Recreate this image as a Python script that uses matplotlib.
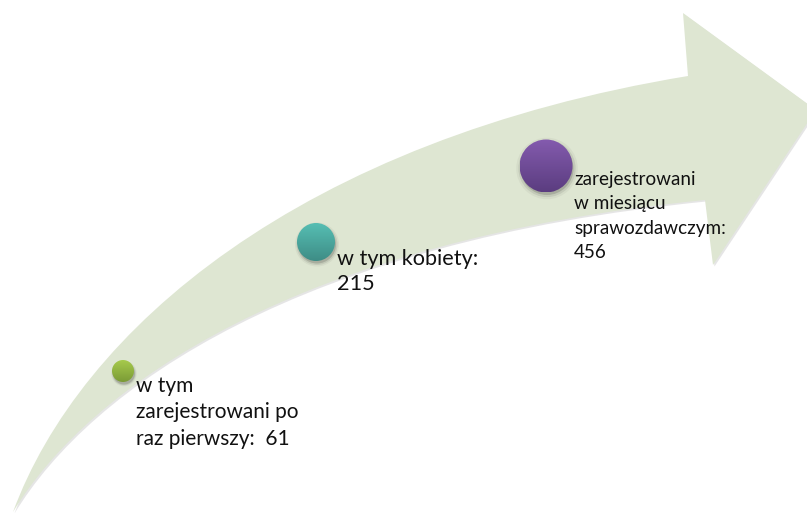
import numpy as np
import matplotlib
matplotlib.use('Agg')
import matplotlib.pyplot as plt
import matplotlib.patches as pat
from matplotlib.path import Path
from matplotlib.colors import LinearSegmentedColormap

plt.rcParams['font.family'] = ['Lato', 'DejaVu Sans']

# values shown on the arrow, from the start of the arrow to its head
values = [61, 215, 456]
caption_lines = [['w tym', 'zarejestrowani po', 'raz pierwszy:  {}'],
                 ['w tym kobiety:', '{}'],
                 ['zarejestrowani', 'w miesiącu', 'sprawozdawczym:', '{}']]

# look of the markers (pixel units, y down)
centers = [(123, 371), (316, 242), (546, 166)]
radii = [11, 19, 26.5]
tops = ['#A6CA4C', '#56BEB3', '#845BAE']
bottoms = ['#7B9B36', '#3E8D86', '#5B3D80']
text_x = [136, 337, 574]
text_y0 = [391.5, 265, 185]
line_step = [26.7, 25, 24.4]
text_size = [15, 15.6, 13.6]

W, H = 807, 513
fig = plt.figure(figsize=(W/100, H/100), dpi=100)
ax = fig.add_axes([0, 0, 1, 1])
ax.axis('off')

# curved arrow body: upper edge, head, lower edge back to the tail
verts = [(13, 512), (80, 330), (300, 140), (688, 76),
         (683, 13), (816, 110), (713, 265), (705, 200),
         (300, 240), (90, 385), (13, 512)]
codes = [Path.MOVETO, Path.CURVE4, Path.CURVE4, Path.CURVE4,
         Path.LINETO, Path.LINETO, Path.LINETO, Path.LINETO,
         Path.CURVE4, Path.CURVE4, Path.CURVE4]
arrow = Path(verts, codes)
shadow_arrow = Path([(x+1.5, y+1.5) for x, y in verts], codes)
ax.add_patch(pat.PathPatch(shadow_arrow, fc='#9a9a9a', ec='none', alpha=0.25, zorder=1))
ax.add_patch(pat.PathPatch(arrow, fc='#DEE6D2', ec='none', zorder=2))


def ball(cx, cy, r, top, bottom):
    for k, a in zip([1.0, 1.08, 1.16], [0.14, 0.08, 0.04]):
        ax.add_patch(pat.Circle((cx+1, cy+2.5), r*k, fc='black', ec='none', alpha=a, zorder=3))
    circ = pat.Circle((cx, cy), r, fc='none', ec='none', zorder=4)
    ax.add_patch(circ)
    cmap = LinearSegmentedColormap.from_list('ball', [top, bottom])
    grad = np.linspace(0, 1, 100).reshape(-1, 1)
    im = ax.imshow(grad, cmap=cmap, extent=(cx-r, cx+r, cy+r, cy-r),
                   aspect='auto', zorder=4, interpolation='bilinear')
    im.set_clip_path(circ)


for i in range(len(values)):
    cx, cy = centers[i]
    ball(cx, cy, radii[i], tops[i], bottoms[i])
    for j, line in enumerate(caption_lines[i]):
        ax.text(text_x[i], text_y0[i] + j*line_step[i], line.format(values[i]),
                fontsize=text_size[i], color='#111111', ha='left', va='baseline', zorder=5)

ax.set_xlim(0, W)
ax.set_ylim(H, 0)

fig.savefig('out.png', dpi=100)
